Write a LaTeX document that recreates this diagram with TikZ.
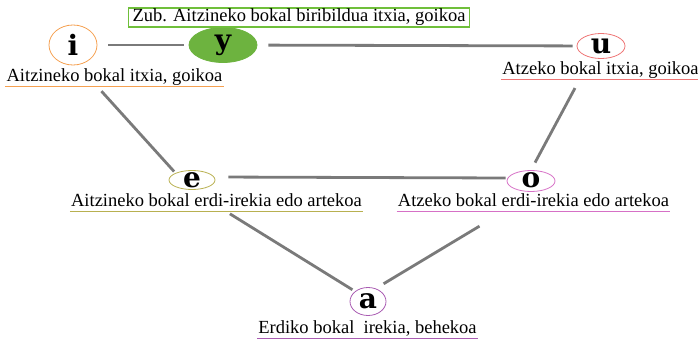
\documentclass[tikz,border=0pt]{standalone}
\usepackage{fontspec}
\setmainfont{Liberation Serif}
\newfontfamily\vowelfamily{DejaVu Serif}
\usetikzlibrary{positioning,shapes.geometric}
\definecolor{linegray}{HTML}{7A7A7A}
\definecolor{iorange}{HTML}{F5A050}
\definecolor{ygreen}{HTML}{6DB33F}
\definecolor{boxgreen}{HTML}{6FBF3A}
\definecolor{ured}{HTML}{EE7575}
\definecolor{eolive}{HTML}{B8B050}
\definecolor{opink}{HTML}{D670C6}
\definecolor{apurple}{HTML}{A95CB2}
\tikzset{
    vowel/.style={draw=#1, ellipse, line width=0.8pt, inner sep=0pt},
    letter/.style={font=\vowelfamily\bfseries\fontsize{28}{28}\selectfont, inner sep=0pt},
    desc/.style={font=\fontsize{18.5}{20}\selectfont, inner sep=1pt, text height=12.5pt, text depth=4.5pt, anchor=base},
    link/.style={draw=linegray, line width=2.8pt},
    uline/.style={draw=#1, line width=1.2pt}
}

\begin{document}
\begin{tikzpicture}[x=1pt, y=-1pt]
    \useasboundingbox (0,0) rectangle (698,340);
    % bokalak
    \node[vowel=iorange, minimum width=48pt, minimum height=40pt, label={[letter]center:i}](i) at (73,45){};
    \node[vowel=ygreen, fill=ygreen, minimum width=68pt, minimum height=35pt, label={[letter]center:y}](y) at (223,45){};
    \node[vowel=ured, minimum width=48pt, minimum height=25pt, label={[letter]center:u}](u) at (601,46){};
    \node[vowel=eolive, minimum width=46pt, minimum height=19pt, label={[letter]center:e}](e) at (192,180){};
    \node[vowel=opink, minimum width=48pt, minimum height=21pt, label={[letter, yshift=1pt]center:o}](o) at (531,181){};
    \node[vowel=apurple, minimum width=36pt, minimum height=28pt, label={[letter]center:a}](a) at (368,301.5){};
    % azalpenak
    \node[desc](Li) at (114.5,81){Aitzineko bokal itxia, goikoa};
    \node[desc, draw=boxgreen, line width=1.2pt, inner xsep=4pt, anchor=center](Ly) at (299,17.5){Zub. Aitzineko bokal biribildua itxia, goikoa};
    \node[desc](Lu) at (600.5,74){Atzeko bokal itxia, goikoa};
    \node[desc](Le) at (216.5,206){Aitzineko bokal erdi-irekia edo artekoa};
    \node[desc](Lo) at (533.5,206){Atzeko bokal erdi-irekia edo artekoa};
    \node[desc](La) at (367.5,333){Erdiko bokal\ \ irekia, behekoa};
    \draw[uline=iorange](Li.south west)--(Li.south east);
    \draw[uline=ured](Lu.south west)--(Lu.south east);
    \draw[uline=eolive](Le.south west)--(Le.south east);
    \draw[uline=opink](Lo.south west)--(Lo.south east);
    \draw[uline=apurple](La.south west)--(La.south east);
    % loturak
    \draw[link, shorten <=11pt, shorten >=5pt](i)--(y);
    \draw[link, shorten <=11pt, shorten >=4pt](y)--(u);
    \draw[link, shorten <=6pt, shorten >=2pt](Li.south -| i.east)--(e.north west);
    \draw[link, shorten <=9.5pt, shorten >=8.5pt]([xshift=-21pt]Lu.south)--(o.north);
    \draw[link, shorten <=13pt, shorten >=1pt]([yshift=3pt]e.east)--([yshift=3pt]o.west);
    \draw[link, shorten <=4pt, shorten >=3pt]([xshift=10pt]Le.south)--(a.north west);
    \draw[link, shorten <=28pt, shorten >=3pt]([xshift=-30pt]Lo.south)--([yshift=6pt]a.north east);
\end{tikzpicture}
\end{document}
